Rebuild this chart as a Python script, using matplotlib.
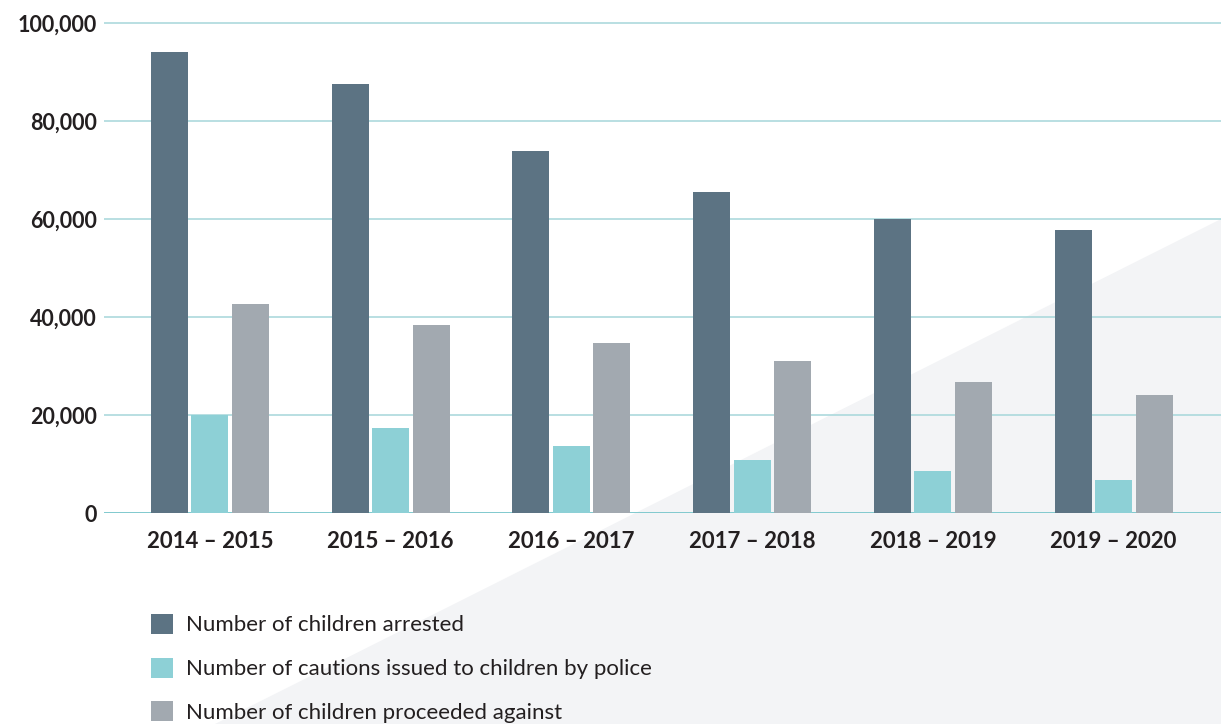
import matplotlib.pyplot as plt
import numpy as np
from matplotlib.patches import Polygon

years = ['2014 – 2015', '2015 – 2016', '2016 – 2017',
         '2017 – 2018', '2018 – 2019', '2019 – 2020']
arrested = [94000, 87600, 73900, 65500, 60000, 57800]
cautions = [20000, 17300, 13700, 10800, 8600, 6700]
proceeded = [42700, 38400, 34700, 31000, 26700, 24100]

series = [
    ('Number of children arrested', arrested, '#5c7383'),
    ('Number of cautions issued to children by police', cautions, '#8dd0d6'),
    ('Number of children proceeded against', proceeded, '#a2a9b0'),
]

plt.rcParams['font.family'] = ['Lato', 'DejaVu Sans']

W, H = 1221, 724
fig = plt.figure(figsize=(W / 100, H / 100), dpi=100)
fig.patch.set_facecolor('white')

# light grey triangle in the lower right corner of the page
tri = Polygon([(1221 / W, 1 - 219 / H), (215 / W, 0), (1, 0)],
              closed=True, transform=fig.transFigure,
              facecolor='#f3f4f6', edgecolor='none', zorder=-5)
fig.patches.append(tri)

ax = fig.add_axes([104 / W, 1 - 513 / H, 1 - 104 / W, (513 - 13.2) / H])
ax.set_facecolor('none')
ax.set_zorder(1)

x = np.arange(len(years))
step = 0.224
width = 0.205
bars = []
for i, (label, vals, col) in enumerate(series):
    b = ax.bar(x + (i - 1) * step, vals, width, color=col, label=label,
               linewidth=0, zorder=3)
    bars.append(b)

ax.set_ylim(0, 102000)
ax.set_xlim(-0.586, 5.594)
ax.set_yticks(np.arange(0, 100001, 20000))
ax.set_yticklabels([f'{v:,}' for v in range(0, 100001, 20000)])
ax.set_xticks(x)
ax.set_xticklabels(years)

ax.yaxis.grid(True, color='#a5d6da', linewidth=1.1)
ax.set_axisbelow(True)
for s in ax.spines.values():
    s.set_visible(False)
ax.axhline(0, color='#7ec8ce', linewidth=1.3, zorder=2)

ax.tick_params(axis='both', length=0)
ax.tick_params(axis='y', pad=5, labelsize=15.5, labelcolor='#231f20')
ax.tick_params(axis='x', pad=13, labelsize=16, labelcolor='#231f20')
for t in ax.get_xticklabels() + ax.get_yticklabels():
    t.set_fontweight('bold')

leg = fig.legend(handles=bars, loc='upper left',
                 bbox_to_anchor=(142 / W, 1 - 605 / H),
                 frameon=False, fontsize=16, handlelength=1.0, handleheight=1.0,
                 handletextpad=0.6, labelspacing=1.0, labelcolor='#231f20',
                 borderaxespad=0)
leg.set_zorder(2)

fig.savefig('out.png', dpi=100)
